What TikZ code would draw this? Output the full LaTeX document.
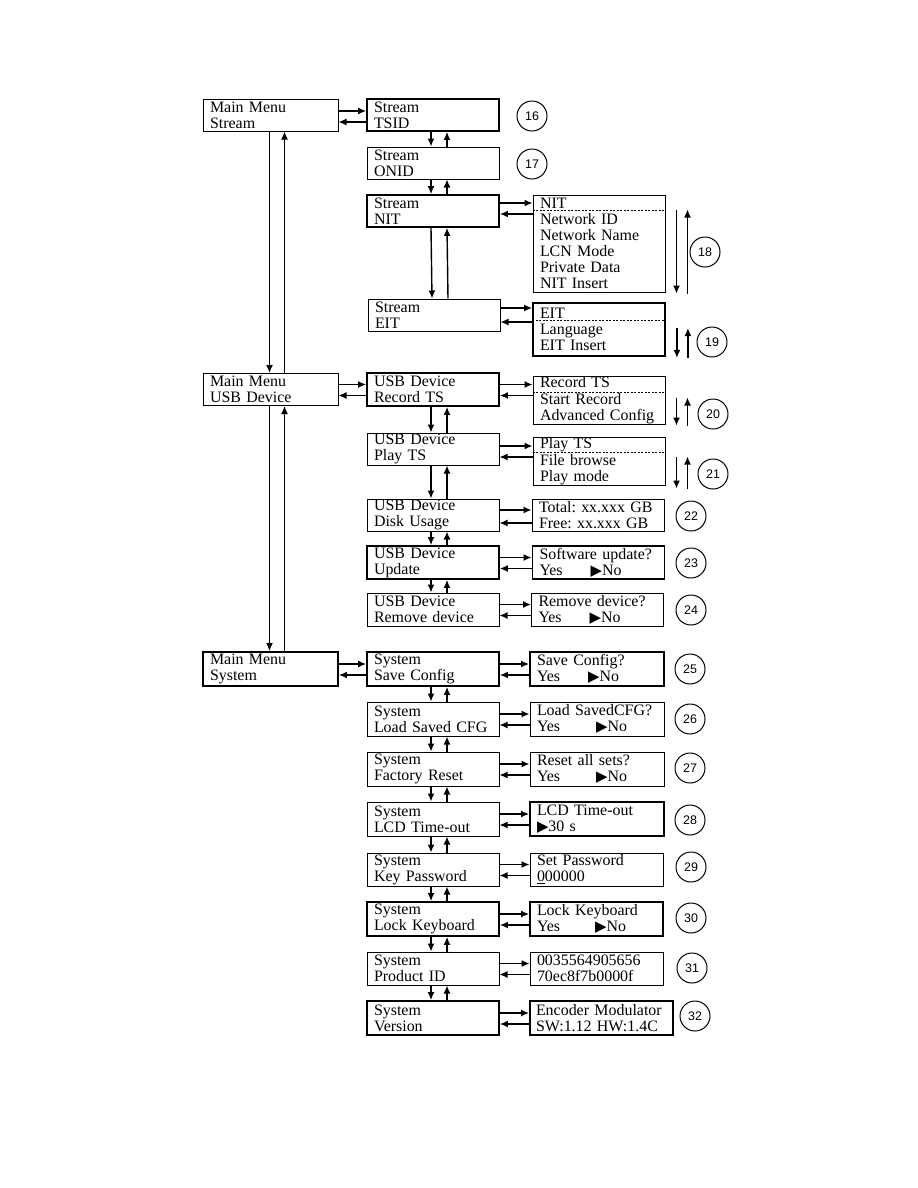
\documentclass[tikz,border=0pt]{standalone}
\usepackage{fontspec}
\setmainfont{Liberation Serif}
\newfontfamily\numfont{Liberation Sans}
\newfontfamily\symfont{DejaVu Sans}
\usetikzlibrary{arrows.meta,calc,positioning}
\frenchspacing
\newcommand{\tri}{{\symfont\fontsize{15}{16}\selectfont ▶}}
\newcommand{\yesno}[1][28bp]{Yes\hspace{#1}\tri No}

\begin{document}
\begin{tikzpicture}[x=1bp, y=-1bp, line width=1bp,
  every node/.style={font=\fontsize{16}{16}\selectfont},
  menubox/.style={draw, minimum width=132bp, minimum height=32bp, text width=118bp, inner xsep=7bp, inner ysep=0pt, align=left},
  mainbox/.style={menubox, minimum width=135bp, text width=121bp},
  heavy/.style={line width=1.8bp},
  numcirc/.style={draw, circle, minimum size=30bp, inner sep=0pt, font=\numfont\fontsize{12.5}{12.5}\selectfont},
  arr/.style={-{Latex[length=8bp,width=7bp]}, line width=1.4bp}]
\useasboundingbox (0,0) rectangle (918,1188);

% main menu
\node[mainbox] (mstream) at (270.5,115) {Main Menu\\Stream};
\node[mainbox] (musb) at (270.5,389.5) {Main Menu\\USB Device};
\node[mainbox, heavy, minimum height=34bp] (msys) at (270.5,669) {Main Menu\\System};

% stream
\node[menubox, heavy] (tsid) at (433,115) {Stream\\TSID};
\node[menubox] (onid) at (433,163) {Stream\\ONID};
\node[menubox, heavy] (nit) at (433,211) {Stream\\NIT};
\node[menubox] (eit) at (434,315) {Stream\\EIT};
\node[menubox, minimum height=97bp] (nitl) at (599,243.5) {NIT\\Network ID\\Network Name\\LCN Mode\\Private Data\\NIT Insert};
\node[menubox, heavy, minimum height=53bp] (eitl) at (599,329.5) {EIT\\Language\\EIT Insert};

% usb device
\node[menubox, heavy, minimum height=33bp] (rec) at (433,389.5) {USB Device\\Record TS};
\node[menubox] (play) at (433,449) {USB Device\\Play TS};
\node[menubox] (disk) at (433,515) {USB Device\\Disk Usage};
\node[menubox, heavy, minimum height=33bp] (upd) at (433,562.5) {USB Device\\Update};
\node[menubox, minimum height=33bp] (rem) at (433,609.5) {USB Device\\Remove device};
\node[menubox, minimum height=48bp] (recl) at (599,400) {Record TS\\[0.5bp]Start Record\\Advanced Config};
\node[menubox, minimum height=48bp] (playl) at (599,461) {Play TS\\[0.5bp]File browse\\Play mode};
\node[menubox] (diskl) at (598,515) {Total: xx.xxx GB\\Free: xx.xxx GB};
\node[menubox, heavy, minimum height=33bp] (updl) at (598.5,562.5) {Software update?\\\yesno};
\node[menubox, minimum height=33bp] (reml) at (597.5,609.5) {Remove device?\\\yesno};

% system
\node[menubox, heavy, minimum height=34bp] (save) at (433,669) {System\\Save Config};
\node[menubox, minimum height=34bp] (load) at (433,719) {System\\Load Saved CFG};
\node[menubox, minimum height=34bp] (fact) at (433,769) {System\\Factory Reset};
\node[menubox, minimum height=34bp] (lcd) at (433,819) {System\\LCD Time-out};
\node[menubox, minimum height=33bp] (key) at (433,869.5) {System\\Key Password};
\node[menubox, heavy, minimum height=34bp] (lock) at (433,919) {System\\Lock Keyboard};
\node[menubox, minimum height=33bp] (pid) at (433,968.5) {System\\Product ID};
\node[menubox, heavy, minimum height=34bp] (ver) at (433,1018) {System\\Version};
\node[menubox, heavy, minimum width=134bp, text width=120bp, minimum height=34bp] (savel) at (597,669) {Save Config?\\\yesno};
\node[menubox, minimum width=134bp, text width=120bp, minimum height=34bp] (loadl) at (597,719) {Load SavedCFG?\\\yesno[36bp]};
\node[menubox, minimum width=134bp, text width=120bp, minimum height=34bp] (factl) at (597,769) {Reset all sets?\\\yesno[36bp]};
\node[menubox, heavy, minimum width=134bp, text width=120bp, minimum height=34bp] (lcdl) at (597,819) {LCD Time-out\\\tri 30 s};
\node[menubox, minimum width=133bp, text width=119bp, minimum height=33bp] (keyl) at (596.5,869.5) {Set Password\\\underline{0}00000};
\node[menubox, heavy, minimum width=133bp, text width=119bp, minimum height=34bp] (lockl) at (596.5,919) {Lock Keyboard\\\yesno[35bp]};
\node[menubox, minimum width=133bp, text width=119bp, minimum height=33bp] (pidl) at (596.5,968.5) {0035564905656\\70ec8f7b0000f};
\node[menubox, heavy, minimum width=143bp, text width=131bp, inner xsep=6bp, minimum height=34bp] (verl) at (601.5,1018) {Encoder Modulator\\SW:1.12 HW:1.4C};

% dashed separators
\foreach \b/\d in {nitl/16, eitl/18, recl/16.5, playl/16}
  \draw[line width=0.6bp, dash pattern=on 2bp off 1.5bp] ($(\b.north west)+(0,\d)$) -- ($(\b.north east)+(0,\d)$);

% main menu up/down
\foreach \a/\b in {mstream/musb, musb/msys} {
  \draw[arr] ($(\a.south)+(-1,0)$) -- ($(\b.north)+(-1,0)$);
  \draw[arr] ($(\b.north)+(14,0)$) -- ($(\a.south)+(14,0)$);
}
% sub menu up/down
\foreach \a/\b in {tsid/onid, onid/nit, nit/eit, rec/play, play/disk, disk/upd, upd/rem, save/load, load/fact, fact/lcd, lcd/key, key/lock, lock/pid, pid/ver} {
  \draw[arr] ($(\a.south)+(-2,0)$) -- ($(\b.north)+(-2,0)$);
  \draw[arr] ($(\b.north)+(14,0)$) -- ($(\a.south)+(14,0)$);
}
% enter / back
\foreach \a/\b/\u/\v in {mstream/tsid/-4/7, musb/rec/-5/6, msys/save/-5/6, nit/nitl/-8/3, eit/eitl/-7/7, rec/recl/-5/6, play/playl/-3/8, disk/diskl/-5/8, upd/updl/-5/6, rem/reml/-5/6, save/savel/-5/6, load/loadl/-5/6, fact/factl/-5/6, lcd/lcdl/-5/6, key/keyl/-5/6, lock/lockl/-5/6, pid/pidl/-5/6, ver/verl/-5/6} {
  \draw[arr] ($(\a.east)+(0,\u)$) -- ($(\b.west |- \a.east)+(0,\u)$);
  \draw[arr] ($(\b.west |- \a.east)+(0,\v)$) -- ($(\a.east)+(0,\v)$);
}
% scrolling in lists
\foreach \b/\t/\s in {nitl/15/1, eitl/26/1, recl/22/1, playl/20/3} {
  \draw[arr] ($(\b.north east)+(11,\t)$) -- ($(\b.south east)+(11,\s)$);
  \draw[arr] ($(\b.south east)+(22,\s)$) -- ($(\b.north east)+(22,\t)$);
}

% page numbers
\foreach \n/\x/\y in {16/532/116, 17/532/164, 18/705/252, 19/712/342, 20/713/414, 21/713/474, 22/691/516, 23/691/563, 24/691/610, 25/690/669, 26/690/719, 27/690/768, 28/690/820, 29/691/867, 30/691/918, 31/692/968, 32/695/1016}
  \node[numcirc] (c\n) at (\x,\y) {\n};
\end{tikzpicture}
\end{document}
